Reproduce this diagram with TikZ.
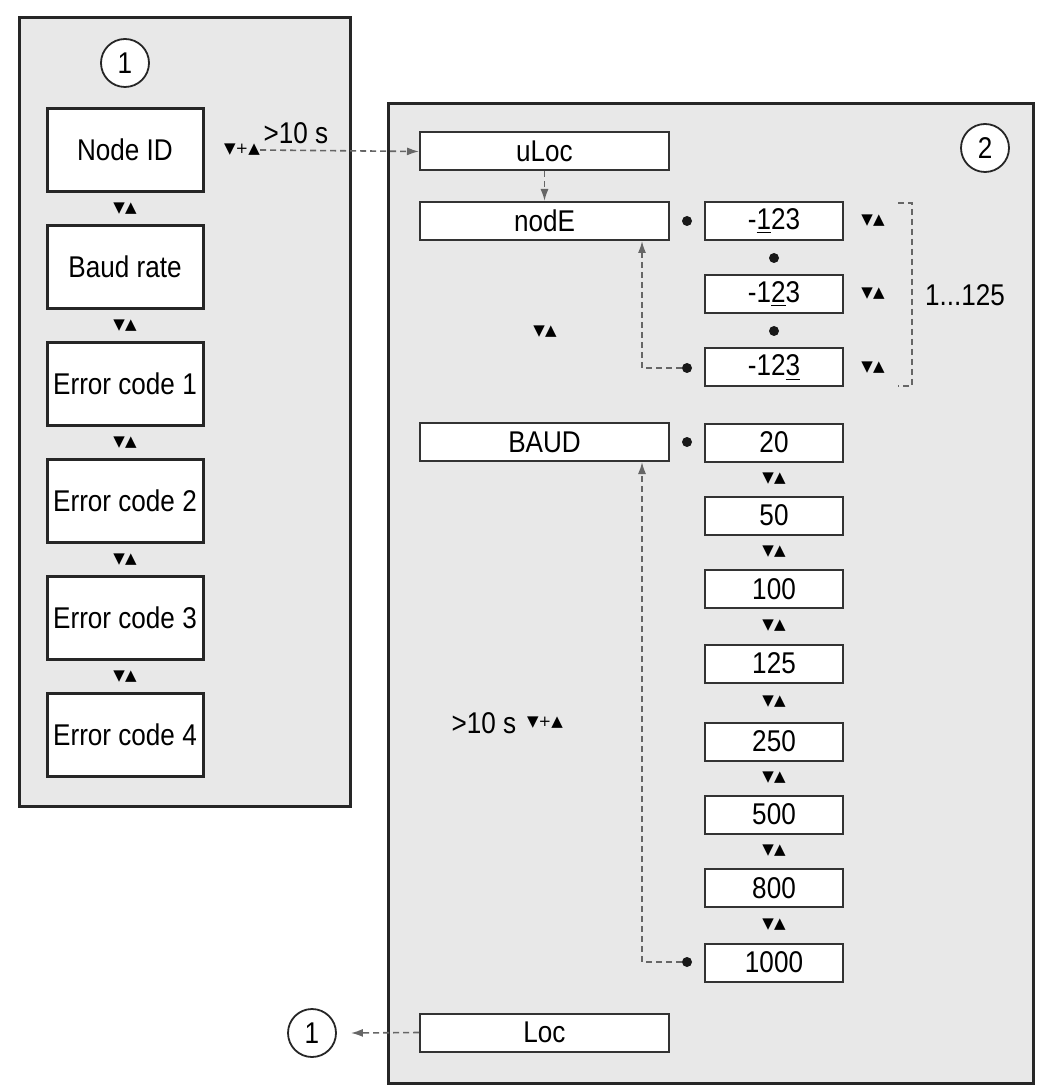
\documentclass[tikz,border=0pt]{standalone}
\usepackage{fontspec}
\setmainfont[FakeStretch=0.87]{Liberation Sans}
\newfontfamily\keyfont{DejaVu Sans}
\usepackage{tikz}
\usetikzlibrary{arrows.meta,positioning,calc}
\newcommand{\lbl}{\fontsize{15}{17}\selectfont}
\newcommand{\updn}{{\keyfont\fontsize{7.5}{8}\selectfont ▼▲}}
\newcommand{\updnplus}{{\keyfont\fontsize{7.5}{8}\selectfont ▼+▲}}

\begin{document}
\begin{tikzpicture}[x=0.5pt,y=-0.5pt,
  panel/.style={draw=black!85,line width=1.5pt,fill=black!9},
  menubox/.style={rectangle,draw=black!85,line width=1.5pt,fill=white,
    minimum width=78pt,minimum height=41.5pt,inner sep=0pt,font=\lbl},
  disp/.style={rectangle,draw=black!80,line width=1pt,fill=white,
    minimum width=124.5pt,minimum height=19pt,inner sep=0pt,font=\lbl},
  val/.style={disp,minimum width=69pt},
  dot/.style={circle,fill=black!90,inner sep=0pt,minimum size=5pt},
  num/.style={circle,draw=black!85,line width=0.9pt,fill=white,
    minimum size=24pt,inner sep=0pt,font=\lbl},
  txt/.style={inner sep=1pt,font=\lbl},
  flow/.style={draw=black!60,line width=0.8pt,dash pattern=on 3pt off 2pt,
    -{Latex[length=6pt,width=4pt]}}
]
\useasboundingbox (0,0) rectangle (1042,1090);

% Panels
\draw[panel] (19,18) rectangle (350,806);
\draw[panel] (388,104) rectangle (1033,1083);
\node[num] (c1) at (125,63) {1};
\node[num] (c2) at (985,148) {2};

% Display menu
\node[menubox] (nid)   at (125,150) {Node ID};
\node[menubox] (brate) at (125,267) {Baud rate};
\node[menubox] (err1)  at (125,384) {Error code 1};
\node[menubox] (err2)  at (125,501) {Error code 2};
\node[menubox] (err3)  at (125,618) {Error code 3};
\node[menubox] (err4)  at (125,735) {Error code 4};
\node (k1) at (125,209) {\updn};
\node (k2) at (125,326) {\updn};
\node (k3) at (125,443) {\updn};
\node (k4) at (125,560) {\updn};
\node (k5) at (125,677) {\updn};

\node[inner sep=0pt] (unlock) at (242,150) {\updnplus};
\node[txt] (t1) at (296,133) {>10 s};

% Parameter menu
\node[disp] (uloc) at (544.5,151.5) {uLoc};
\node[disp] (node) at (544.5,221) {nodE};
\node[disp] (baud) at (544.5,442) {BAUD};
\node[disp] (loc)  at (544.5,1032.5) {Loc};
\node (kn) at (545,332) {\updn};
\node[txt] (t2) at (484,723) {>10 s};
\node[inner sep=0pt] (lock) at (545,723) {\updnplus};

% Node ID digits
\node[dot] (dn1) at (687,221) {};
\node[dot] (dn2) at (687,368) {};
\node[val] (id1) at (774,221) {-\underline{1}23};
\node[val] (id2) at (774,294) {-1\underline{2}3};
\node[val] (id3) at (774,367.5) {-12\underline{3}};
\node[dot] (di1) at (774,258) {};
\node[dot] (di2) at (774,331) {};
\node (ki1) at (873,221) {\updn};
\node (ki2) at (873,294) {\updn};
\node (ki3) at (873,368) {\updn};
\draw[black!60,line width=0.8pt,dash pattern=on 3pt off 2pt]
  (898,203) -- (912,203) -- (912,386) -- (898,386);
\node[txt] (range) at (965,295) {1...125};

% Baud rates
\node[dot] (db1) at (687,442) {};
\node[dot] (db2) at (687,962) {};
\node[val] (b20)   at (774,442.5) {20};
\node[val] (b50)   at (774,515.5) {50};
\node[val] (b100)  at (774,589) {100};
\node[val] (b125)  at (774,663.5) {125};
\node[val] (b250)  at (774,741.5) {250};
\node[val] (b500)  at (774,814.5) {500};
\node[val] (b800)  at (774,888) {800};
\node[val] (b1000) at (774,962.5) {1000};
\node (kb1) at (774,479) {\updn};
\node (kb2) at (774,552) {\updn};
\node (kb3) at (774,626) {\updn};
\node (kb4) at (774,702) {\updn};
\node (kb5) at (774,778) {\updn};
\node (kb6) at (774,851) {\updn};
\node (kb7) at (774,925) {\updn};

\node[num] (c1b) at (312,1033) {1};

\draw[flow] (unlock.east) -- (uloc.west);
\draw[flow] (uloc) -- (node);
\draw[flow] (dn2.west) -| ([xshift=-14pt]node.south east);
\draw[flow] (db2.west) -| ([xshift=-14pt]baud.south east);
\draw[flow] (loc.west) -- ([xshift=7pt]c1b.east);
\end{tikzpicture}
\end{document}
